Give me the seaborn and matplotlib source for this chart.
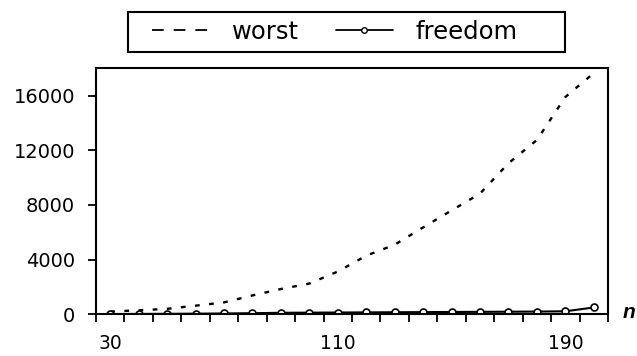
# Worst case vs freedom, line chart in the old Excel style
import pandas as pd
import matplotlib.pyplot as plt
import seaborn as sns
from matplotlib.lines import Line2D
from matplotlib.patches import Rectangle

# values
n_values = [30, 40, 50, 60, 70, 80, 90, 100, 110, 120, 130, 140, 150, 160, 170, 180, 190, 200]
worst = [200, 290, 400, 630, 870, 1380, 1850, 2250, 3130, 4290, 5090, 6360, 7600, 8830,
         11050, 12750, 15900, 17650]
freedom = [20, 25, 35, 45, 60, 80, 110, 120, 130, 140, 150, 160, 170, 180, 190, 200, 220, 500]

y_ticks = [0, 4000, 8000, 12000, 16000]
x_labels = [30, 110, 190]

df = pd.DataFrame({'n': n_values, 'worst': worst, 'freedom': freedom})

sns.set_style('white')
plt.rcParams['font.family'] = ['DejaVu Sans']
plt.rcParams['text.color'] = 'black'
plt.rcParams['xtick.color'] = 'black'
plt.rcParams['ytick.color'] = 'black'

fig = plt.figure(figsize=(6.37, 3.56), dpi=100)
ax = fig.add_axes([96 / 637, 1 - 314.3 / 356, 512 / 637, 246 / 356])

sns.lineplot(data=df, x='n', y='worst', ax=ax, color='black', linewidth=1.7,
             linestyle=(0, (2, 4)))
sns.lineplot(data=df, x='n', y='freedom', ax=ax, color='black', linewidth=1.5,
             marker='o', markersize=5, markerfacecolor='white',
             markeredgecolor='black', markeredgewidth=1.2)

ax.set_xlim(25, 205)
ax.set_ylim(0, 18000)

# tick marks sit between the categories, labels on the categories
ax.set_xticks(list(range(25, 206, 10)))
ax.set_xticklabels([])
ax.set_xticks(x_labels, minor=True)
ax.set_xticklabels([str(v) for v in x_labels], minor=True)
ax.tick_params(axis='x', which='major', direction='out', length=6, width=1.3, bottom=True)
ax.tick_params(axis='x', which='minor', length=0, pad=14, labelsize=13.5, bottom=True,
               labelcolor='black')

ax.set_yticks(y_ticks)
ax.set_yticklabels([str(v) for v in y_ticks])
ax.tick_params(axis='y', direction='out', length=6, width=1.3, pad=9, labelsize=14, left=True,
               labelcolor='black')

for side in ['left', 'right', 'top', 'bottom']:
    ax.spines[side].set_visible(True)
    ax.spines[side].set_color('black')
    ax.spines[side].set_linewidth(1.5)

ax.set_xlabel('')
ax.set_ylabel('')

# legend box, drawn at the reference's size
fig.patches.append(Rectangle((128.3 / 637, 1 - 51.7 / 356), (564.6 - 128.3) / 637, 40 / 356,
                             transform=fig.transFigure, fill=False, edgecolor='black',
                             linewidth=1.5))
handles = [Line2D([], [], color='black', linewidth=1.3, linestyle=(0, (6.5, 5.5))),
           Line2D([], [], color='black', linewidth=1.3, marker='o', markersize=4,
                  markerfacecolor='white', markeredgecolor='black')]
leg = fig.legend(handles, ['worst', 'freedom'], loc='center left', ncol=2,
                 bbox_to_anchor=(152 / 637, 1 - 31.7 / 356), fontsize=17.5,
                 frameon=False, handlelength=2.35, handletextpad=0.95, columnspacing=1.5,
                 borderpad=0, borderaxespad=0)
for t in leg.get_texts():
    t.set_color('black')

fig.text(623 / 637, 1 - 312 / 356, 'n', fontsize=15, style='italic', weight='bold',
         va='center', ha='left', family='Liberation Sans', color='black')

plt.savefig('out.png', dpi=100)
